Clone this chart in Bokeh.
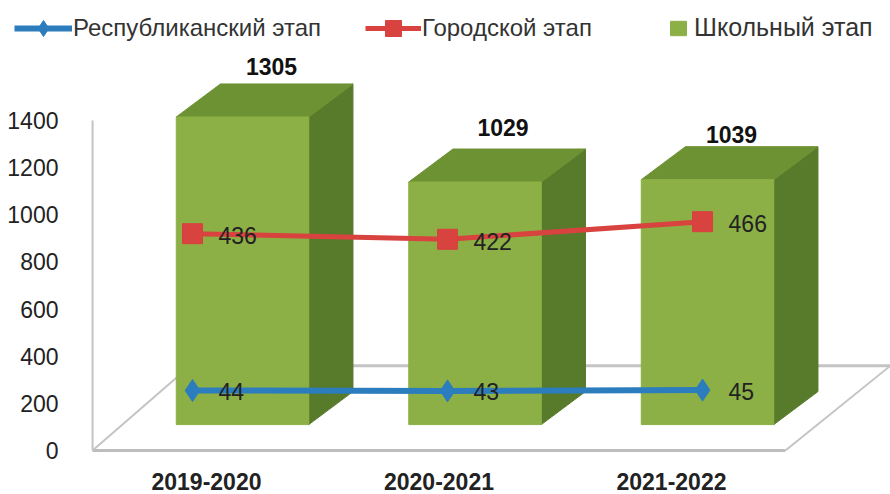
from bokeh.plotting import figure
from bokeh.models import Range1d, FixedTicker, Legend, LegendItem
from bokeh.embed import file_html
from bokeh.resources import INLINE
from bokeh.core.properties import value

periods = ["2019-2020", "2020-2021", "2021-2022"]
school = [1305, 1029, 1039]
city = [436, 422, 466]
republic = [44, 43, 45]
y_ticks = [0, 200, 400, 600, 800, 1000, 1200, 1400]

FONT = "Liberation Sans"
FRONT, TOP, SIDE = "#8CB045", "#6C9233", "#587A2B"
BLUE, RED = "#2C7DBD", "#D8423F"
GREY = "#C4C4C4"

# Layout of the pseudo-3D chart, in axis units
BAR_W = 0.57
BASE = 110
DX, DY = 0.19, 140
LABEL_SHIFT = 0.155
idx = list(range(len(periods)))

p = figure(width=890, height=494, output_backend="svg", toolbar_location=None,
           x_range=Range1d(-1.041, 2.787), y_range=Range1d(-72, 1909),
           min_border_left=0, min_border_right=0, min_border_top=0, min_border_bottom=27,
           outline_line_color=None, background_fill_color="white", border_fill_color="white")
p.xgrid.visible = False
p.ygrid.visible = False
p.extra_x_ranges["line"] = Range1d(-0.753, 2.737)
p.extra_y_ranges["line"] = Range1d(-148.5, 1019)

for ax, size in ((p.xaxis[0], "23px"), (p.yaxis[0], "23px")):
    ax.axis_line_color = None
    ax.major_tick_line_color = None
    ax.minor_tick_line_color = None
    ax.major_label_text_font = FONT
    ax.major_label_text_font_size = size
    ax.major_label_text_color = "#222222"
p.xaxis[0].ticker = FixedTicker(ticks=[i - LABEL_SHIFT for i in idx])
p.xaxis[0].major_label_overrides = {i - LABEL_SHIFT: t for i, t in zip(idx, periods)}
p.xaxis[0].major_label_text_font_style = "bold"
p.xaxis[0].major_label_standoff = -1
p.yaxis[0].ticker = FixedTicker(ticks=y_ticks)
p.yaxis[0].major_label_standoff = -64

# Floor and wall
WALL, FRONT_R, XMAX, FD_X, FD_Y = -0.645, 2.335, 2.787, 0.42, 360
p.line([WALL, WALL], [0, 1400], line_color=GREY, line_width=2)
p.line([WALL, FRONT_R], [0, 0], line_color="#BDBDBD", line_width=3)
p.line([WALL, WALL + FD_X], [0, FD_Y], line_color=GREY, line_width=2)
p.line([WALL + FD_X, XMAX], [FD_Y, FD_Y], line_color=GREY, line_width=3)
p.line([FRONT_R, XMAX], [0, FD_Y], line_color=GREY, line_width=2)

# Bars
tops = [BASE + v for v in school]
left = [i - BAR_W / 2 for i in idx]
right = [i + BAR_W / 2 for i in idx]
p.patches([[r, r + DX, r + DX, r] for r in right],
          [[BASE, BASE + DY, t + DY, t] for t in tops],
          fill_color=SIDE, line_color=SIDE)
p.patches([[l, l + DX, r + DX, r] for l, r in zip(left, right)],
          [[t, t + DY, t + DY, t] for t in tops],
          fill_color=TOP, line_color=TOP)
bars = p.vbar(x=idx, width=BAR_W, bottom=BASE, top=tops, fill_color=FRONT, line_color=FRONT)

p.text(x=idx, y=tops, text=[str(v) for v in school],
       x_offset=[29, 28, 24], y_offset=[-50, -55, -45],
       text_align="center", text_baseline="middle", text_font=value(FONT),
       text_font_size="23px", text_font_style="bold", text_color="#111111")

# Lines on their own scale
line_kw = dict(x_range_name="line", y_range_name="line")
l_city = p.line(idx, city, line_color=RED, line_width=5, **line_kw)
m_city = p.scatter(idx, city, marker="square", size=20, fill_color=RED, line_color=RED, **line_kw)
l_rep = p.line(idx, republic, line_color=BLUE, line_width=6, **line_kw)
m_rep = p.scatter(idx, republic, marker="diamond", size=22, fill_color=BLUE, line_color=BLUE, **line_kw)

for vals, dy in ((city, 2), (republic, 1)):
    p.text(x=idx, y=vals, text=[str(v) for v in vals], x_offset=26, y_offset=dy,
           text_align="left", text_baseline="middle", text_font=value(FONT),
           text_font_size="23px", text_color="#222222", **line_kw)

# Legends
def legend(label, rends, x, y, gw, gh, lsize="24px", standoff=1):
    lg = Legend(items=[LegendItem(label=label, renderers=rends)], location=(x, y),
                orientation="horizontal", padding=0, margin=0, glyph_width=gw, glyph_height=gh,
                label_standoff=standoff, background_fill_alpha=0, border_line_color=None,
                label_text_font=FONT, label_text_font_size=lsize, label_text_color="#333333")
    p.add_layout(lg, "center")

legend("Республиканский этап", [l_rep, m_rep], 14, 419, 58, 40)
legend("Городской этап", [l_city, m_city], 365, 419, 56, 40)
legend("Школьный этап", [bars], 668, 425, 20, 18, "25px", 6)

open("out.html", "w").write(file_html(p, INLINE))
